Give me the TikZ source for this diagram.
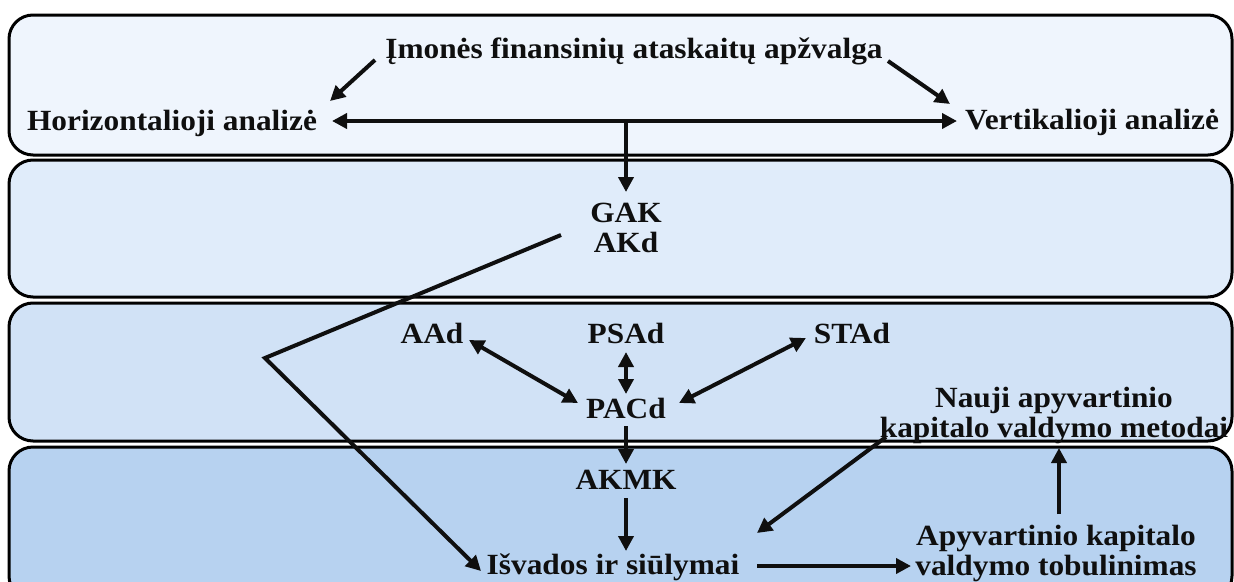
\documentclass[tikz,border=0pt]{standalone}
\usepackage{fontspec}
\setmainfont{Liberation Serif}[FakeStretch=1.07]
\usetikzlibrary{arrows.meta,calc}
\definecolor{bandA}{RGB}{239,245,253}
\definecolor{bandB}{RGB}{224,236,250}
\definecolor{bandC}{RGB}{209,226,246}
\definecolor{bandD}{RGB}{183,210,240}
\definecolor{ink}{RGB}{15,15,15}
\begin{document}
\begin{tikzpicture}[x=1pt,y=-1pt,
  band/.style={draw=black, line width=3pt, rounded corners=24pt},
  lab/.style={inner sep=0pt, text=ink, font=\fontsize{29.3}{30.5}\selectfont\bfseries},
  tip/.style={-{Triangle[length=15pt,width=15pt]}},
  arr/.style={line width=4pt, draw=ink, -{Triangle[length=15pt,width=15pt]}},
  darr/.style={line width=4pt, draw=ink, {Triangle[length=15pt,width=15pt]}-{Triangle[length=15pt,width=15pt]}},
  ln/.style={line width=4pt, draw=ink}]
\useasboundingbox (0,0) rectangle (1234,581);
\begin{scope}
  \clip (0,0) rectangle (1234,581);
  \fill[white] (0,0) rectangle (1234,581);
  \draw[band, fill=bandA] (9,15) rectangle (1232,155);
  \draw[band, fill=bandB] (9,160) rectangle (1232,297);
  \draw[band, fill=bandC] (9,303) rectangle (1232,441);
  \draw[band, fill=bandD] (9,447) rectangle (1232,600);
\end{scope}

% nodes
\node[lab, anchor=base] (top) at (634,58) {Įmonės finansinių ataskaitų apžvalga};
\node[lab, anchor=base] (hor) at (172,130) {Horizontalioji analizė};
\node[lab, anchor=base] (ver) at (1092,129) {Vertikalioji analizė};
\node[lab, anchor=north, align=center] (gak) at (626,202.5) {GAK\\AKd};
\node[lab, anchor=base] (aad) at (432,343) {AAd};
\node[lab, anchor=base] (psad) at (626,343) {PSAd};
\node[lab, anchor=base] (stad) at (852,343) {STAd};
\node[lab, anchor=base] (pacd) at (626,418) {PACd};
\node[lab, anchor=north, align=center] (nauji) at (1054,386.5) {Nauji apyvartinio\\kapitalo valdymo metodai};
\node[lab, anchor=base] (akmk) at (626,489) {AKMK};
\node[lab, anchor=base] (isv) at (613,574) {Išvados ir siūlymai};
\node[lab, anchor=north, align=center] (apy) at (1056,524.5) {Apyvartinio kapitalo\\valdymo tobulinimas};
\coordinate (split) at (626,121);
\coordinate (bend) at (265,358);

% connectors
\draw[arr] ($(top.base)+(-259,2)$) -- ($(hor.base)+(158,-29)$);
\draw[arr] ($(top.base)+(254,3)$) -- ($(ver.base)+(-142,-25)$);
\draw[darr] ($(hor.base)+(160,-9)$) -- ($(ver.base)+(-135,-8)$);
\draw[arr] (split) -- ($(gak.north)+(0,-10.5)$);
\draw[ln, tip] ($(gak.north)+(-65,32.5)$) -- (bend) -- ($(isv.base)+(-132,-3)$);
\draw[darr] ($(aad.base)+(37,-3)$) -- ($(pacd.base)+(-48,-15)$);
\draw[darr] ($(psad.base)+(0,9)$) -- ($(pacd.base)+(0,-24)$);
\draw[darr] ($(stad.base)+(-46,-5)$) -- ($(pacd.base)+(53,-15)$);
\draw[arr] ($(pacd.base)+(0,8)$) -- ($(akmk.base)+(0,-25)$);
\draw[arr] ($(akmk.base)+(0,9)$) -- ($(isv.base)+(13,-23)$);
\draw[arr] ($(nauji.north)+(-168,50.5)$) -- ($(isv.base)+(144,-41)$);
\draw[arr] ($(isv.base)+(144,-8)$) -- ($(apy.north)+(-145,41.5)$);
\draw[arr] ($(apy.north)+(3,-10.5)$) -- ($(nauji.north)+(5,61.5)$);
\end{tikzpicture}
\end{document}
